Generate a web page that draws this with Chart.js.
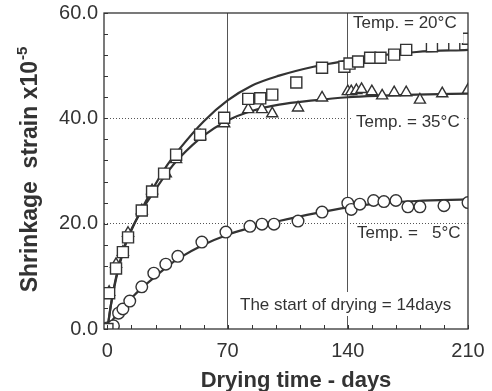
<!DOCTYPE html>
<html>
<head>
<meta charset="utf-8">
<script src="https://cdn.jsdelivr.net/npm/chart.js@4/dist/chart.umd.min.js"></script>
<style>
    html, body { margin: 0; padding: 0; background: #fff; }
    #wrap { width: 492px; height: 391px; }
</style>
</head>
<body>
<div id="wrap"><canvas id="chart" width="492" height="391"></canvas></div>
<script>
// measured points, Temp. = 20C (squares)
const days20 = [0, 1, 5, 9, 12, 20, 26, 33, 40, 54, 68, 82, 89, 96, 110, 125, 138, 141, 146, 153, 159, 167, 174, 189, 202, 210];
const strain20 = [0, 6.8, 11.5, 14.6, 17.4, 22.5, 26.1, 29.5, 33.1, 36.9, 40.1, 43.7, 43.8, 44.5, 46.8, 49.6, 49.8, 50.4, 50.8, 51.5, 51.5, 52.1, 53.0, 53.7, 54.0, 55.1];

// Temp. = 35C (triangles)
const days35 = [0, 1, 5, 9, 12, 20, 26, 34, 40, 54, 68, 82, 90, 96, 111, 125, 140, 142, 145, 148, 154, 160, 167, 174, 182, 195, 210];
const strain35 = [0, 7.0, 12.3, 14.6, 18.2, 22.5, 26.3, 29.5, 32.2, 36.7, 39.0, 41.7, 41.7, 40.9, 42.0, 43.9, 45.1, 45.1, 45.3, 45.5, 45.1, 44.3, 44.9, 44.9, 43.5, 44.7, 45.4];

// Temp. = 5C (circles)
const days5 = [0, 3.5, 6.5, 9, 13, 20, 27, 34, 41, 55, 69, 83, 90, 97, 111, 125, 140, 142, 147, 155, 161, 168, 175, 182, 196, 210];
const strain5 = [0.2, 0.6, 3.0, 3.8, 5.3, 8.0, 10.6, 12.3, 13.8, 16.5, 18.4, 19.5, 19.9, 19.9, 20.5, 22.2, 23.9, 22.7, 23.7, 24.4, 24.2, 24.4, 23.2, 23.2, 23.4, 24.0];

// fitted curves
const curveDays = [0, 2, 5, 10, 15, 20, 28, 35, 42, 56, 70, 84, 100, 120, 140, 160, 180, 210];
const curve20 = [0, 4.5, 9.5, 15.5, 19.5, 22.8, 27.5, 31.2, 34.2, 39.4, 43.4, 46.2, 48.1, 49.8, 51.0, 52.0, 52.6, 53.0];
const curve35 = [0, 4.5, 9.8, 15.8, 19.6, 22.5, 26.5, 29.8, 32.5, 36.7, 39.6, 41.4, 42.6, 43.4, 44.0, 44.3, 44.5, 44.7];
const curve5 = [0, 1.2, 2.6, 4.5, 6.2, 7.8, 10.0, 11.9, 13.5, 16.0, 17.9, 19.3, 20.5, 21.9, 23.1, 23.9, 24.3, 24.6];

const xLabels = [0, 70, 140, 210];
const yLabels = [0, 20, 40, 60];

const INK = '#333';
const FONT = '"Liberation Sans", Arial, Helvetica, sans-serif';

const pts = (xs, ys) => xs.map((x, i) => ({ x: x, y: ys[i] }));

function markerSet(xs, ys, style, radius) {
    return {
        data: pts(xs, ys),
        showLine: false,
        pointStyle: style,
        pointRadius: radius,
        pointHoverRadius: radius,
        pointBackgroundColor: '#fff',
        pointBorderColor: INK,
        pointBorderWidth: 1.4,
        order: 0
    };
}

function curveSet(xs, ys) {
    return {
        data: pts(xs, ys),
        showLine: true,
        borderColor: INK,
        borderWidth: 2.2,
        pointRadius: 0,
        fill: false,
        cubicInterpolationMode: 'monotone',
        order: 1
    };
}

const labelsPlugin = {
    id: 'labels',
    afterDatasetsDraw(chart) {
        const ctx = chart.ctx;
        const notes = [
            { text: 'Temp. = 20°C', x: 353, y: 28, box: [350, 14, 113, 29] },
            { text: 'Temp. = 35°C', x: 356, y: 127, box: [352, 112, 111, 19] },
            { text: 'Temp. =   5°C', x: 357, y: 238, box: null },
            { text: 'The start of drying = 14days', x: 240, y: 310, box: [236, 292, 228, 24] }
        ];
        ctx.save();
        ctx.font = '17px ' + FONT;
        ctx.textBaseline = 'alphabetic';
        notes.forEach(n => {
            if (n.box) {
                ctx.fillStyle = '#fff';
                ctx.fillRect(n.box[0], n.box[1], n.box[2], n.box[3]);
            }
            ctx.fillStyle = INK;
            ctx.fillText(n.text, n.x, n.y);
        });
        ctx.restore();
    },
    afterDraw(chart) {
        const ctx = chart.ctx;
        const a = chart.chartArea;
        const xs = chart.scales.x;
        const ys = chart.scales.y;
        ctx.save();
        ctx.strokeStyle = INK;
        ctx.lineWidth = 1.3;
        ctx.strokeRect(a.left, a.top, a.right - a.left, a.bottom - a.top);

        // inward ticks
        ctx.lineWidth = 1;
        ctx.beginPath();
        ys.ticks.forEach(t => {
            const y = Math.round(ys.getPixelForValue(t.value)) + 0.5;
            ctx.moveTo(a.left, y);
            ctx.lineTo(a.left + 4, y);
        });
        xs.ticks.forEach(t => {
            if (t.value < 0) return;
            const x = Math.round(xs.getPixelForValue(t.value)) + 0.5;
            ctx.moveTo(x, a.bottom);
            ctx.lineTo(x, a.bottom - 4);
        });
        ctx.stroke();

        // axis titles
        ctx.fillStyle = INK;
        ctx.font = 'bold 22px ' + FONT;
        ctx.textAlign = 'center';
        ctx.textBaseline = 'alphabetic';
        ctx.fillText('Drying time - days', 296, 387);

        ctx.translate(37, 170);
        ctx.rotate(-Math.PI / 2);
        const main = 'Shrinkage  strain x10';
        const sup = '-5';
        ctx.font = 'bold 23px ' + FONT;
        const w1 = ctx.measureText(main).width;
        ctx.font = 'bold 15px ' + FONT;
        const w2 = ctx.measureText(sup).width;
        const start = -(w1 + w2) / 2;
        ctx.textAlign = 'left';
        ctx.font = 'bold 23px ' + FONT;
        ctx.fillText(main, start, 0);
        ctx.font = 'bold 15px ' + FONT;
        ctx.fillText(sup, start + w1 + 1, -10);
        ctx.restore();
    }
};

new Chart(document.getElementById('chart'), {
    type: 'scatter',
    data: {
        datasets: [
            markerSet(days20, strain20, 'rect', 7.8),
            markerSet(days35, strain35, 'triangle', 6.4),
            markerSet(days5, strain5, 'circle', 5.8),
            curveSet(curveDays, curve20),
            curveSet(curveDays, curve35),
            curveSet(curveDays, curve5)
        ]
    },
    options: {
        responsive: false,
        animation: false,
        layout: { padding: { left: 0, right: 24, top: 13, bottom: 0 } },
        plugins: {
            legend: { display: false },
            tooltip: { enabled: false }
        },
        scales: {
            x: {
                type: 'linear',
                min: -2,
                max: 210,
                afterFit: scale => {
                    scale.height = 62;
                    scale.paddingLeft = 0;
                    scale.paddingRight = 0;
                },
                ticks: {
                    stepSize: 14,
                    includeBounds: false,
                    autoSkip: false,
                    maxRotation: 0,
                    padding: 10,
                    color: INK,
                    font: { family: FONT, size: 20 },
                    callback: v => xLabels.includes(v) ? String(v) : ''
                },
                grid: {
                    drawTicks: false,
                    lineWidth: 1,
                    color: c => (c.tick && (c.tick.value === 70 || c.tick.value === 140)) ? '#555' : 'rgba(0,0,0,0)'
                },
                border: { display: false }
            },
            y: {
                type: 'linear',
                min: 0,
                max: 60,
                afterFit: scale => {
                    scale.width = 104;
                    scale.paddingTop = 0;
                    scale.paddingBottom = 0;
                },
                ticks: {
                    stepSize: 4,
                    autoSkip: false,
                    padding: 6,
                    color: INK,
                    font: { family: FONT, size: 20 },
                    callback: v => yLabels.includes(v) ? v.toFixed(1) : ''
                },
                grid: {
                    drawTicks: false,
                    lineWidth: 1,
                    color: c => (c.tick && (c.tick.value === 20 || c.tick.value === 40)) ? '#555' : 'rgba(0,0,0,0)'
                },
                border: { display: false, dash: [1, 2] }
            }
        }
    },
    plugins: [labelsPlugin]
});
</script>
</body>
</html>
